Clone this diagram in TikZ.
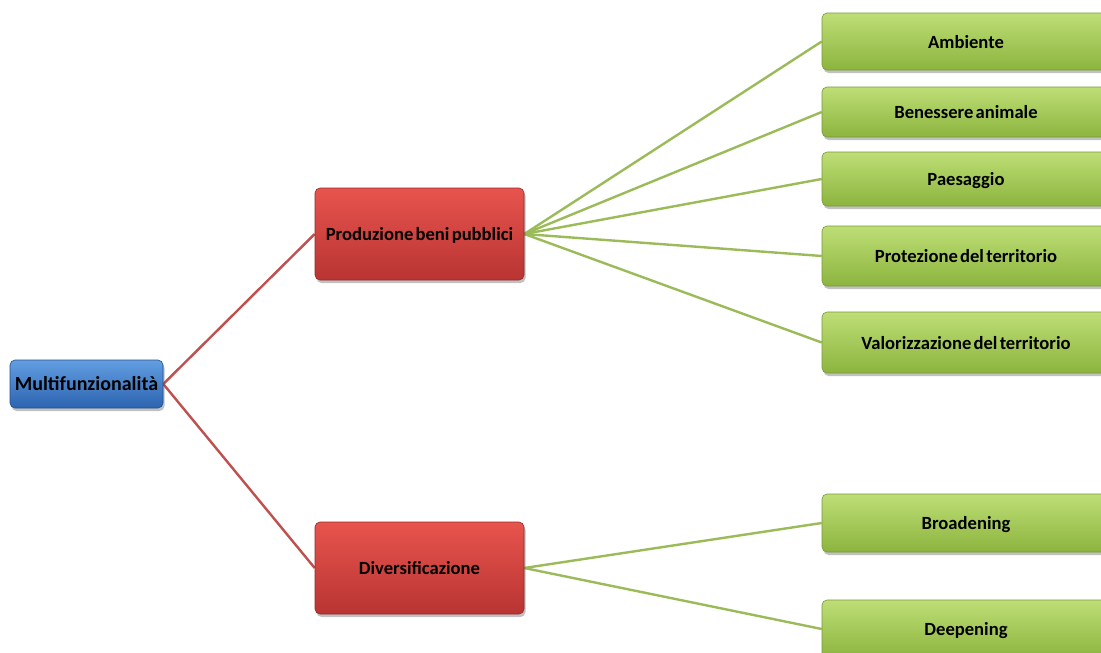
\documentclass[tikz,border=0pt]{standalone}
\usepackage{fontspec}
\setmainfont{Carlito}
\usetikzlibrary{shadows,backgrounds}
\definecolor{bluetop}{RGB}{98,158,225}
\definecolor{bluebot}{RGB}{44,100,176}
\definecolor{redtop}{RGB}{232,84,78}
\definecolor{redbot}{RGB}{184,52,50}
\definecolor{greentop}{RGB}{190,222,118}
\definecolor{greenbot}{RGB}{140,180,62}
\definecolor{redline}{RGB}{192,80,77}
\definecolor{greenline}{RGB}{155,187,89}
\newcommand\boxfont{\fontsize{18.6}{21}\selectfont\bfseries\spaceskip=0.12em\relax}
\newcommand\rootfont{\fontsize{20}{23}\selectfont\bfseries}
\begin{document}
\begin{tikzpicture}[x=1pt,y=-1pt,
  box/.style={rounded corners=5pt, inner sep=0pt, font=\boxfont,
    text height=16.5pt, text depth=3pt,
    text=black, shading=axis, shading angle=0,
    drop shadow={shadow xshift=1.5pt, shadow yshift=-3pt, opacity=0.35, fill=black!70}},
  rootbox/.style={box, font=\rootfont, top color=bluetop, bottom color=bluebot, draw=bluebot!80!black, line width=0.6pt},
  redbox/.style={box, top color=redtop, bottom color=redbot, draw=redbot!80!black, line width=0.6pt},
  greenbox/.style={box, top color=greentop, bottom color=greenbot, draw=greenbot!85!black, line width=0.6pt},
  redlink/.style={draw=redline, line width=2.4pt},
  greenlink/.style={draw=greenline, line width=2.4pt}]
\clip (0,0) rectangle (1101,653);
\node[rootbox, minimum width=153pt, minimum height=48pt] (root) at (86.5,384) {Multifunzionalità};
\node[redbox, minimum width=209pt, minimum height=92pt] (pbp) at (419.5,234) {Produzione beni pubblici};
\node[redbox, minimum width=209pt, minimum height=92pt] (div) at (419.5,568) {Diversificazione};
\node[greenbox, minimum width=288pt, minimum height=57pt] (amb) at (966,41.5) {Ambiente};
\node[greenbox, minimum width=288pt, minimum height=50pt] (ben) at (966,112) {Benessere animale};
\node[greenbox, minimum width=288pt, minimum height=54pt] (pae) at (966,179) {Paesaggio};
\node[greenbox, minimum width=288pt, minimum height=60pt] (pro) at (966,256) {Protezione del territorio};
\node[greenbox, minimum width=288pt, minimum height=61pt] (val) at (966,342.5) {Valorizzazione del territorio};
\node[greenbox, minimum width=288pt, minimum height=58pt] (bro) at (966,523) {Broadening};
\node[greenbox, minimum width=288pt, minimum height=58pt] (dee) at (966,629) {Deepening};
\begin{scope}[on background layer]
\draw[redlink] (root.east) -- (pbp.west);
\draw[redlink] (root.east) -- (div.west);
\foreach \t in {amb,ben,pae,pro,val}
  \draw[greenlink] (pbp.east) -- (\t.west);
\foreach \t in {bro,dee}
  \draw[greenlink] (div.east) -- (\t.west);
\end{scope}
\end{tikzpicture}
\end{document}
